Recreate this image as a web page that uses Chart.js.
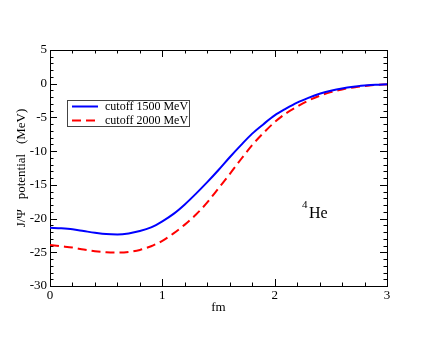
<!DOCTYPE html>
<html>
<head>
<meta charset="utf-8">
<script src="https://cdn.jsdelivr.net/npm/chart.js@4"></script>
<style>
  html, body { margin: 0; padding: 0; background: #fff; }
  #wrap { width: 436px; height: 337px; }
</style>
</head>
<body>
<div id="wrap"><canvas id="grafico"></canvas></div>
<script>
// distance (fm)
var distancias = [0, 0.1, 0.2, 0.3, 0.4, 0.5, 0.6, 0.7, 0.8, 0.9, 1.0,
  1.1, 1.2, 1.3, 1.4, 1.5, 1.6, 1.7, 1.8, 1.9, 2.0,
  2.1, 2.2, 2.3, 2.4, 2.5, 2.6, 2.7, 2.8, 2.9, 3.0];

// J/Psi potential (MeV), cutoff 1500 MeV
var cutoff1500 = [-21.35, -21.45, -21.6, -21.85, -22.1, -22.3, -22.35, -22.2, -21.85, -21.3, -20.4,
  -19.3, -17.9, -16.3, -14.6, -12.8, -10.9, -9.1, -7.4, -6.0, -4.7,
  -3.7, -2.8, -2.1, -1.5, -1.05, -0.7, -0.45, -0.28, -0.15, -0.08];

// J/Psi potential (MeV), cutoff 2000 MeV
var cutoff2000 = [-23.9, -24.1, -24.3, -24.6, -24.85, -25.0, -25.05, -24.95, -24.65, -24.1, -23.3,
  -22.2, -20.9, -19.4, -17.6, -15.5, -13.4, -11.2, -9.1, -7.3, -5.7,
  -4.4, -3.4, -2.5, -1.8, -1.25, -0.85, -0.55, -0.33, -0.18, -0.1];

var etiquetas = ['cutoff 1500 MeV', 'cutoff 2000 MeV'];

var serif = 'Liberation Serif';

const puntos = (ys) => ys.map((y, i) => ({ x: distancias[i], y: y }));

const esEntero = (v) => Math.abs(v - Math.round(v)) < 1e-6;

// ticks hacia adentro en los cuatro lados + marco
const marco = {
  id: 'marco',
  beforeDatasetsDraw(chart) {
    const ctx = chart.ctx;
    const a = chart.chartArea;
    const sx = chart.scales.x, sy = chart.scales.y;
    ctx.save();
    ctx.strokeStyle = '#000';
    ctx.lineWidth = 1;
    ctx.beginPath();
    sx.ticks.forEach(t => {
      const px = Math.round(sx.getPixelForValue(t.value)) + 0.5;
      const len = esEntero(t.value) ? 7 : 3.5;
      ctx.moveTo(px, a.bottom); ctx.lineTo(px, a.bottom - len);
      ctx.moveTo(px, a.top); ctx.lineTo(px, a.top + len);
    });
    sy.ticks.forEach(t => {
      const py = Math.round(sy.getPixelForValue(t.value)) + 0.5;
      const len = (t.value % 5 === 0) ? 7 : 3.5;
      ctx.moveTo(a.left, py); ctx.lineTo(a.left + len, py);
      ctx.moveTo(a.right, py); ctx.lineTo(a.right - len, py);
    });
    ctx.stroke();
    ctx.strokeRect(Math.round(a.left) + 0.5, Math.round(a.top) + 0.5,
      Math.round(a.right - a.left), Math.round(a.bottom - a.top));
    ctx.restore();
  },
  afterDraw(chart) {
    const ctx = chart.ctx;
    ctx.save();
    // leyenda
    ctx.fillStyle = '#fff';
    ctx.fillRect(67.5, 100.5, 122, 26);
    ctx.strokeStyle = '#444';
    ctx.lineWidth = 1;
    ctx.strokeRect(67.5, 100.5, 122, 26);
    chart.data.datasets.forEach((ds, i) => {
      const y = 106.5 + i * 14;
      ctx.beginPath();
      ctx.strokeStyle = ds.borderColor;
      ctx.lineWidth = 2;
      ctx.setLineDash(ds.borderDash || []);
      ctx.moveTo(72, y); ctx.lineTo(98, y);
      ctx.stroke();
      ctx.setLineDash([]);
      ctx.fillStyle = '#000';
      ctx.font = '12px "' + serif + '"';
      ctx.textBaseline = 'middle';
      ctx.fillText(ds.label, 105, y + 0.5);
    });
    // 4He
    ctx.fillStyle = '#000';
    ctx.textBaseline = 'alphabetic';
    ctx.font = '11px "' + serif + '"';
    ctx.fillText('4', 302, 208);
    ctx.font = '16px "' + serif + '"';
    ctx.fillText('He', 309, 218);
    ctx.restore();
  }
};

new Chart(document.getElementById('grafico'), {
  type: 'line',
  data: {
    datasets: [
      {
        label: etiquetas[0],
        data: puntos(cutoff1500),
        borderColor: '#0000ff',
        borderWidth: 2,
        pointRadius: 0,
        cubicInterpolationMode: 'monotone',
        fill: false
      },
      {
        label: etiquetas[1],
        data: puntos(cutoff2000),
        borderColor: '#ff0000',
        borderWidth: 2,
        borderDash: [9, 5],
        pointRadius: 0,
        cubicInterpolationMode: 'monotone',
        fill: false
      }
    ]
  },
  options: {
    responsive: true,
    maintainAspectRatio: false,
    animation: false,
    events: [],
    layout: { padding: { top: 50, right: 49, left: 0, bottom: 0 } },
    plugins: {
      legend: { display: false },
      tooltip: { enabled: false }
    },
    scales: {
      x: {
        type: 'linear',
        min: 0,
        max: 3,
        afterFit: (s) => { s.height = 51; },
        grid: { display: false, drawTicks: false },
        border: { display: false },
        ticks: {
          stepSize: 0.2,
          autoSkip: false,
          maxRotation: 0,
          padding: 2,
          color: '#000',
          font: { family: serif, size: 13 },
          callback: (v) => esEntero(v) ? String(Math.round(v)) : ''
        },
        title: {
          display: true,
          text: 'fm',
          color: '#000',
          font: { family: serif, size: 13 },
          padding: { top: 0, bottom: 22 }
        }
      },
      y: {
        min: -30,
        max: 5,
        afterFit: (s) => { s.width = 50; },
        grid: { display: false, drawTicks: false },
        border: { display: false },
        ticks: {
          stepSize: 1,
          autoSkip: false,
          padding: 3,
          color: '#000',
          font: { family: serif, size: 13 },
          callback: (v) => (v % 5 === 0) ? String(v) : ''
        },
        title: {
          display: true,
          text: 'J/\u03A8   potential   (MeV)',
          color: '#000',
          font: { family: serif, size: 13 },
          padding: { top: 14, bottom: 0 }
        }
      }
    }
  },
  plugins: [marco]
});
</script>
</body>
</html>
